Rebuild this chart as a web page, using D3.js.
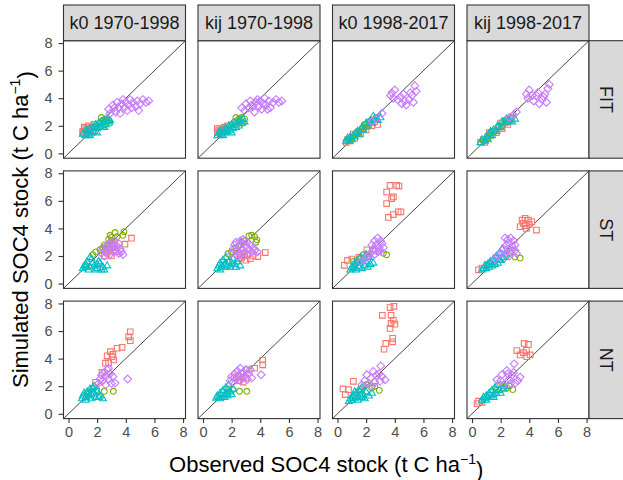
<!DOCTYPE html>
<html><head><meta charset="utf-8">
<script src="https://cdn.jsdelivr.net/npm/d3@7"></script>
<style>body{margin:0;background:#fff} svg{display:block;font-family:"Liberation Sans",Arial,sans-serif}</style>
</head><body><svg id="c" width="623" height="480"></svg>
<script>
// ---------- categories / labels ----------
const columns = ["k0 1970-1998", "kij 1970-1998", "k0 1998-2017", "kij 1998-2017"];
const rows = ["FIT", "ST", "NT"];
const ticks = [0, 2, 4, 6, 8];
const seriesKeys = ["sq", "ci", "tr", "di"];
const seriesColors = ["#F8766D", "#7CAE00", "#00BFC4", "#C77CFF"];
const xTitle = "Observed SOC4 stock (t C ha";
const yTitle = "Simulated SOC4 stock (t C ha";

// ---------- data: [observed, simulated] per series ----------
const FIT_k0_7098 = {
  sq: [[1.0,1.6],[1.1,1.4],[1.2,1.8],[1.3,1.5],[1.4,2.0],[1.5,1.7],[1.6,1.9],[1.7,1.6],[1.1,1.9],[1.8,2.1],[1.3,1.7],[1.0,1.5]],
  ci: [[2.2,2.2],[2.4,2.4],[2.5,2.1],[2.6,2.5],[2.7,2.3],[2.8,2.4],[2.9,2.2],[2.3,2.6],[2.0,2.0],[1.8,1.9]],
  tr: [[1.0,1.4],[1.2,1.3],[1.3,1.6],[1.4,1.4],[1.5,1.8],[1.6,1.5],[1.7,1.9],[1.8,1.6],[1.9,2.1],[2.0,1.8],[2.1,2.2],[2.2,1.9],[2.3,2.3],[2.4,2.0],[2.5,2.4],[2.6,2.1],[2.7,2.5],[2.8,2.3],[1.5,1.3],[2.0,1.5],[1.2,1.7],[2.5,1.9],[2.9,2.4]],
  di: [[2.8,3.2],[2.9,2.9],[3.1,3.5],[3.3,3.0],[3.4,3.7],[3.5,3.3],[3.6,2.9],[3.7,3.6],[3.8,3.9],[3.9,3.3],[4.0,3.7],[4.1,3.1],[4.2,3.5],[4.3,3.9],[4.4,3.3],[4.5,3.7],[4.7,3.4],[4.8,3.8],[5.0,3.6],[5.2,3.9],[5.4,3.7],[5.6,3.8],[4.9,3.1],[3.2,3.3]]
};
const FIT_kij_7098 = {
  sq: [[1.0,1.5],[1.1,1.7],[1.2,1.4],[1.3,1.8],[1.4,1.6],[1.5,1.9],[1.6,1.7],[1.0,1.8],[1.7,2.0],[1.2,1.6]],
  ci: [[2.2,2.3],[2.4,2.1],[2.5,2.5],[2.6,2.3],[2.7,2.6],[2.8,2.2],[2.9,2.5],[2.0,2.1],[2.3,2.6]],
  tr: [[1.0,1.3],[1.1,1.5],[1.3,1.4],[1.4,1.7],[1.5,1.5],[1.6,1.8],[1.7,1.6],[1.8,2.0],[1.9,1.7],[2.0,2.1],[2.1,1.8],[2.2,2.2],[2.3,1.9],[2.4,2.3],[2.5,2.0],[2.6,2.4],[2.7,2.2],[2.8,2.5],[1.4,1.3],[2.0,1.5],[2.9,2.3],[1.2,1.6]],
  di: [[2.7,3.3],[2.9,3.1],[3.0,3.6],[3.2,3.3],[3.3,3.8],[3.5,3.4],[3.6,3.0],[3.7,3.7],[3.8,3.9],[3.9,3.4],[4.0,3.8],[4.1,3.2],[4.2,3.6],[4.3,4.0],[4.4,3.5],[4.6,3.8],[4.7,3.3],[4.9,3.7],[5.1,3.9],[5.3,3.7],[5.5,3.8],[4.5,3.2],[3.4,3.5]]
};
const FIT_k0_9817 = {
  sq: [[0.6,0.8],[0.7,1.0],[0.9,0.9],[1.0,1.2],[1.2,1.1],[1.4,1.5],[1.6,1.4],[1.8,1.8],[2.0,1.7],[2.2,2.1],[2.4,2.0],[2.6,2.3],[2.8,2.1],[1.1,1.4],[1.9,2.0]],
  ci: [[0.8,1.0],[1.0,1.1],[1.3,1.4],[1.5,1.6],[1.7,1.8],[2.0,1.9],[2.2,2.3],[2.5,2.4],[2.7,2.6],[1.9,2.1]],
  tr: [[0.6,0.9],[0.7,1.1],[0.8,0.9],[0.9,1.2],[1.0,1.0],[1.1,1.3],[1.2,1.2],[1.4,1.6],[1.5,1.4],[1.7,1.9],[1.8,1.7],[2.0,2.2],[2.1,2.0],[2.3,2.4],[2.4,2.2],[2.6,2.5],[2.8,2.4],[3.0,2.6],[2.5,2.7],[1.3,1.5]],
  di: [[2.7,2.5],[3.1,2.9],[3.7,4.2],[3.8,4.4],[3.9,4.0],[4.0,4.6],[4.2,3.9],[4.4,4.1],[4.5,3.6],[4.6,4.3],[4.8,3.5],[4.7,3.8],[5.0,3.9],[5.1,4.4],[5.2,4.2],[5.3,3.7],[5.4,4.9],[5.5,4.5],[2.4,2.3]]
};
const FIT_kij_9817 = {
  sq: [[0.6,0.8],[0.8,1.0],[0.9,0.8],[1.1,1.2],[1.3,1.3],[1.5,1.6],[1.7,1.5],[1.9,1.9],[2.1,1.8],[2.3,2.3],[2.5,2.1],[2.7,2.5],[1.2,1.5],[2.0,2.2]],
  ci: [[0.8,0.9],[1.1,1.1],[1.3,1.5],[1.6,1.6],[1.8,1.9],[2.1,2.0],[2.3,2.4],[2.6,2.3],[2.8,2.6]],
  tr: [[0.6,0.8],[0.7,1.0],[0.9,0.9],[1.0,1.2],[1.1,1.0],[1.2,1.4],[1.4,1.3],[1.5,1.7],[1.7,1.6],[1.8,2.0],[2.0,1.9],[2.1,2.3],[2.3,2.2],[2.4,2.5],[2.6,2.4],[2.8,2.3],[3.0,2.5],[1.3,1.6]],
  di: [[2.6,2.6],[2.9,2.8],[3.1,3.0],[3.8,4.3],[3.9,4.0],[4.0,4.6],[4.2,4.2],[4.3,3.8],[4.5,4.2],[4.6,4.4],[4.7,3.6],[4.9,3.9],[5.0,4.1],[5.1,4.3],[5.2,3.7],[5.3,4.7],[5.4,5.0]]
};
const ST_k0_7098 = {
  sq: [[2.5,2.0],[2.7,2.2],[2.9,2.4],[3.1,2.6],[3.3,2.3],[2.6,2.5],[3.0,2.0],[3.94,2.86],[4.4,3.29],[2.8,2.7],[3.2,2.9]],
  ci: [[1.7,2.1],[1.9,2.3],[2.2,2.45],[2.5,2.8],[2.8,3.2],[3.0,3.36],[3.0,3.1],[3.25,3.7],[3.4,3.4],[3.87,3.76],[3.8,3.5],[2.9,3.5],[2.4,2.6]],
  tr: [[1.0,1.1],[1.1,1.3],[1.2,1.4],[1.3,1.6],[1.4,1.0],[1.5,1.2],[1.6,1.8],[1.7,1.5],[1.8,1.3],[1.9,1.0],[2.0,1.1],[2.1,1.6],[2.2,1.5],[2.4,1.2],[2.5,1.0],[2.7,1.3],[1.2,1.2],[2.0,1.4],[1.5,1.9],[2.3,1.0]],
  di: [[2.3,2.2],[2.4,2.5],[2.6,2.7],[2.6,2.3],[2.8,2.9],[2.8,2.5],[3.0,2.6],[3.0,3.0],[3.1,2.3],[3.2,2.8],[3.3,2.4],[3.4,2.7],[3.5,2.2],[3.6,2.5],[3.7,2.3],[3.8,2.1],[2.9,2.1],[3.2,3.1],[2.5,2.0],[3.5,2.9]]
};
const ST_kij_7098 = {
  sq: [[2.5,1.8],[2.7,1.9],[2.9,2.0],[3.1,2.1],[3.3,1.8],[3.0,1.7],[2.8,2.2],[3.5,2.0],[3.83,1.96],[4.35,2.25],[2.6,2.1]],
  ci: [[1.74,2.16],[2.0,2.3],[2.3,2.6],[2.6,2.8],[2.9,3.1],[3.2,3.45],[3.4,3.5],[3.6,3.4],[3.76,3.17],[3.7,3.0],[2.7,3.0]],
  tr: [[1.0,1.1],[1.1,1.3],[1.2,1.5],[1.3,1.2],[1.4,1.7],[1.5,1.4],[1.6,1.9],[1.7,1.3],[1.8,1.6],[1.9,1.2],[2.0,1.5],[2.1,1.8],[2.2,1.4],[2.4,1.6],[2.6,1.3],[1.2,1.0],[1.6,1.2],[2.3,1.2]],
  di: [[2.0,2.2],[2.1,2.5],[2.2,2.8],[2.3,3.0],[2.4,2.4],[2.5,2.7],[2.6,3.1],[2.7,2.5],[2.8,2.9],[2.9,2.3],[3.0,2.7],[3.1,3.0],[3.2,2.5],[3.3,2.8],[3.4,2.3],[3.5,2.6],[3.6,2.4],[3.8,2.3],[2.6,2.1],[3.1,2.1],[2.4,2.0],[2.8,3.2]]
};
const ST_k0_9817 = {
  sq: [[3.67,7.12],[4.13,7.12],[4.29,7.07],[3.43,6.64],[3.9,6.28],[3.78,6.16],[3.43,5.8],[4.43,5.2],[4.24,5.2],[3.9,5.0],[3.55,4.8],[0.47,1.32],[0.7,1.68],[1.0,1.78],[2.05,2.45],[1.5,1.9]],
  ci: [[3.43,2.09],[3.2,2.2],[2.5,2.45],[1.8,2.09],[1.11,1.6],[2.9,2.3],[1.5,1.8],[2.2,2.0]],
  tr: [[0.9,1.0],[1.0,1.2],[1.1,1.1],[1.2,1.3],[1.3,1.0],[1.4,1.6],[1.5,1.2],[1.6,1.5],[1.7,1.1],[1.8,1.8],[1.9,1.3],[2.0,1.6],[2.1,1.2],[2.2,1.9],[2.3,1.4],[2.5,1.5],[1.2,1.5],[1.6,1.9],[2.0,2.1]],
  di: [[2.6,3.1],[2.8,3.3],[3.0,3.1],[2.7,2.8],[2.9,2.6],[3.1,2.9],[2.5,2.5],[2.8,2.3],[2.3,2.2],[2.0,1.9],[1.8,1.7],[2.2,2.0],[2.6,2.1],[3.2,2.6],[2.4,2.8],[3.0,2.4],[1.6,1.6]]
};
const ST_kij_9817 = {
  sq: [[3.71,4.73],[3.94,4.6],[4.17,4.48],[3.59,4.37],[3.36,4.12],[3.8,4.0],[4.5,3.88],[4.0,4.3],[3.5,4.6],[0.46,1.0],[0.7,1.13],[1.05,1.37],[3.7,4.2]],
  ci: [[3.36,1.85],[3.0,1.92],[2.65,2.2],[2.4,2.0],[2.8,2.4],[2.2,1.8],[1.6,1.6]],
  tr: [[0.7,1.0],[0.8,1.1],[0.9,1.3],[1.0,1.1],[1.1,1.4],[1.2,1.2],[1.3,1.6],[1.4,1.3],[1.5,1.8],[1.6,1.4],[1.7,2.0],[1.8,1.5],[1.9,2.2],[2.0,1.7],[2.1,2.5],[2.2,1.9],[1.2,1.5],[1.9,1.8],[2.3,2.1]],
  di: [[2.3,3.3],[2.5,3.2],[2.7,3.3],[2.9,3.1],[2.4,2.8],[2.6,2.9],[2.8,2.7],[3.0,2.8],[2.2,2.5],[2.5,2.5],[2.7,2.3],[3.0,2.4],[2.0,2.2],[2.3,2.1],[2.6,2.0],[1.8,2.0],[3.1,2.2],[1.6,1.8]]
};
const NT_k0_7098 = {
  sq: [[4.31,5.94],[4.2,5.58],[4.31,5.3],[3.74,4.82],[3.39,4.75],[2.92,4.5],[3.04,4.14],[3.15,3.9],[2.7,4.2],[2.58,3.67],[2.8,3.7],[2.34,3.0],[1.88,2.28],[3.1,4.3]],
  ci: [[2.5,1.63],[3.13,1.63],[1.97,1.75],[1.7,1.8],[1.4,1.5]],
  tr: [[0.95,1.1],[1.0,1.3],[1.1,1.5],[1.2,1.2],[1.3,1.6],[1.4,1.3],[1.5,1.8],[1.6,1.4],[1.7,1.9],[1.8,1.5],[1.9,1.2],[2.0,1.6],[2.2,1.3],[2.4,1.1],[1.2,1.0],[1.6,1.1],[1.8,2.0],[2.1,1.2]],
  di: [[2.1,2.2],[2.2,2.5],[2.3,2.8],[2.4,2.4],[2.5,3.0],[2.6,2.7],[2.7,3.2],[2.8,2.5],[2.9,2.9],[3.0,2.2],[3.1,2.7],[3.25,2.23],[2.6,2.1],[4.13,2.52],[2.8,3.3]]
};
const NT_kij_7098 = {
  sq: [[4.17,3.9],[4.17,3.55],[3.6,3.3],[3.06,3.19],[2.43,2.7],[2.7,2.9],[2.5,2.4],[2.8,2.3],[3.0,2.6],[2.2,2.6]],
  ci: [[2.55,1.63],[3.06,1.63],[2.09,1.75],[1.8,1.8]],
  tr: [[0.93,1.15],[1.0,1.3],[1.1,1.2],[1.2,1.5],[1.3,1.3],[1.4,1.7],[1.5,1.4],[1.6,1.9],[1.7,1.5],[1.8,2.1],[1.9,1.6],[2.0,1.4],[2.1,1.8],[1.2,1.1],[1.5,1.2],[1.7,1.3]],
  di: [[1.9,2.4],[2.0,2.7],[2.2,2.9],[2.3,2.5],[2.4,3.1],[2.5,2.8],[2.6,3.3],[2.7,2.6],[2.8,3.0],[2.9,2.7],[3.0,3.2],[3.1,2.5],[3.2,2.9],[3.4,2.6],[2.1,2.3],[4.06,2.83],[3.3,3.2],[2.6,2.4]]
};
const NT_k0_9817 = {
  sq: [[3.67,7.7],[3.94,7.79],[3.13,7.14],[3.74,7.14],[3.9,6.78],[4.01,6.5],[3.74,6.55],[3.67,6.19],[3.85,5.47],[3.85,5.22],[3.37,5.1],[3.25,4.68],[1.11,2.35],[0.38,1.8],[0.77,1.75],[0.54,1.39]],
  ci: [[2.92,1.7],[2.39,1.87],[2.04,2.12],[1.6,1.8],[2.6,2.0]],
  tr: [[0.8,0.9],[0.9,1.1],[1.0,1.0],[1.1,1.3],[1.2,1.1],[1.3,1.5],[1.4,1.2],[1.5,1.7],[1.6,1.3],[1.7,1.9],[1.8,1.4],[1.9,1.1],[2.0,1.6],[2.2,1.3],[2.4,1.5],[1.4,1.0],[1.7,1.2],[1.2,1.6]],
  di: [[3.02,3.47],[2.5,3.07],[2.04,2.83],[3.32,2.47],[2.97,2.35],[1.7,2.1],[2.34,2.59],[2.7,2.8],[2.6,2.3],[2.2,2.2],[2.9,2.9],[1.9,2.4],[3.1,2.7],[2.4,2.0]]
};
const NT_kij_9817 = {
  sq: [[3.64,5.1],[3.94,5.03],[3.13,4.58],[3.59,4.43],[4.06,4.27],[3.83,4.14],[3.36,4.27],[3.8,4.6],[0.46,0.91],[0.35,0.74],[0.7,0.83]],
  ci: [[2.85,1.75],[2.43,1.87],[2.0,2.1],[2.2,1.9],[2.6,2.0],[1.7,1.7]],
  tr: [[0.7,1.0],[0.8,1.2],[0.9,1.1],[1.0,1.3],[1.1,1.2],[1.2,1.5],[1.3,1.3],[1.4,1.7],[1.5,1.4],[1.6,1.9],[1.7,1.5],[1.8,2.1],[1.9,1.7],[2.0,1.5],[2.2,1.8],[2.3,2.0],[1.0,1.0],[1.5,1.2]],
  di: [[2.94,3.62],[2.43,3.14],[2.09,2.83],[3.36,2.66],[1.74,2.47],[2.8,2.8],[3.02,2.23],[2.2,2.1],[2.6,2.5],[2.5,2.9],[2.9,3.0],[3.2,2.4],[2.0,2.4],[2.7,2.2]]
};
const panelGrid = [
  [FIT_k0_7098, FIT_kij_7098, FIT_k0_9817, FIT_kij_9817],
  [ST_k0_7098, ST_kij_7098, ST_k0_9817, ST_kij_9817],
  [NT_k0_7098, NT_kij_7098, NT_k0_9817, NT_kij_9817]
];

// ---------- layout ----------
const L = 63.5, PW = 122, GX = 134.5, T = 40.7, PH = 117.5, GY = 130.2, STRIP = 35.7;
const domain = [-0.35, 8.17];

const shapes = {
  sq: () => `M-2.8,-2.8h5.6v5.6h-5.6Z`,
  ci: () => `M2.9,0A2.9,2.9 0 1 1 -2.9,0A2.9,2.9 0 1 1 2.9,0Z`,
  tr: () => `M0,-3.9L3.5,2.2L-3.5,2.2Z`,
  di: () => `M0,-3.9L3.9,0L0,3.9L-3.9,0Z`
};

const svg = d3.select("#c");
const drawOrder = ["sq", "ci", "tr", "di"];

rows.forEach((rname, ri) => {
  columns.forEach((cname, ci) => {
    const x0 = L + ci * GX, y0 = T + ri * GY;
    const xs = d3.scaleLinear().domain(domain).range([x0, x0 + PW]);
    const ys = d3.scaleLinear().domain(domain).range([y0 + PH, y0]);
    const g = svg.append("g");
    g.append("rect").attr("x", x0).attr("y", y0).attr("width", PW).attr("height", PH).attr("fill", "#fff");
    g.append("line")
      .attr("x1", xs(domain[0])).attr("y1", ys(domain[0]))
      .attr("x2", xs(domain[1])).attr("y2", ys(domain[1]))
      .attr("stroke", "#333").attr("stroke-width", 0.9);
    const pd = panelGrid[ri][ci];
    drawOrder.forEach(k => {
      const col = seriesColors[seriesKeys.indexOf(k)];
      g.append("g").selectAll("path").data(pd[k]).join("path")
        .attr("d", shapes[k])
        .attr("transform", d => `translate(${xs(d[0])},${ys(d[1])})`)
        .attr("fill", "none").attr("stroke", col).attr("stroke-width", 1.1);
    });
    g.append("rect").attr("x", x0).attr("y", y0).attr("width", PW).attr("height", PH)
      .attr("fill", "none").attr("stroke", "#333").attr("stroke-width", 1.1);

    if (ci === 0) {
      const ax = svg.append("g").attr("transform", `translate(${x0},0)`)
        .call(d3.axisLeft(ys).tickValues(ticks).tickSize(5).tickPadding(6));
      ax.select(".domain").remove();
      ax.selectAll("line").attr("stroke", "#333").attr("stroke-width", 1.1);
      ax.selectAll("text").attr("fill", "#4D4D4D").style("font-size", "14.5px").style("font-family", "Liberation Sans, Arial, sans-serif");
    }
    if (ri === rows.length - 1) {
      const ax = svg.append("g").attr("transform", `translate(0,${y0 + PH})`)
        .call(d3.axisBottom(xs).tickValues(ticks).tickSize(4.5).tickPadding(4));
      ax.select(".domain").remove();
      ax.selectAll("line").attr("stroke", "#333").attr("stroke-width", 1.1);
      ax.selectAll("text").attr("fill", "#4D4D4D").style("font-size", "14.5px").style("font-family", "Liberation Sans, Arial, sans-serif");
    }
    if (ri === 0) {
      svg.append("rect").attr("x", x0).attr("y", y0 - STRIP).attr("width", PW).attr("height", STRIP)
        .attr("fill", "#D9D9D9").attr("stroke", "#333").attr("stroke-width", 1.1);
      svg.append("text").attr("x", x0 + PW / 2).attr("y", y0 - STRIP / 2).attr("dy", "0.36em")
        .attr("text-anchor", "middle").attr("fill", "#1A1A1A").style("font-size", "18px").text(cname);
    }
    if (ci === columns.length - 1) {
      svg.append("rect").attr("x", x0 + PW).attr("y", y0).attr("width", STRIP).attr("height", PH)
        .attr("fill", "#D9D9D9").attr("stroke", "#333").attr("stroke-width", 1.1);
      svg.append("text").attr("transform", `translate(${x0 + PW + STRIP / 2},${y0 + PH / 2}) rotate(90)`)
        .attr("dy", "0.36em").attr("text-anchor", "middle").attr("fill", "#1A1A1A")
        .style("font-size", "18px").text(rname);
    }
  });
});

// ---------- axis titles ----------
function title(sel, base) {
  sel.append("tspan").text(base);
  sel.append("tspan").attr("dy", "-0.6em").style("font-size", "14px").text("\u22121");
  sel.append("tspan").attr("dy", "0.6em").text(")");
}
const cx = L + (3 * GX + PW) / 2;
svg.append("text").attr("x", cx).attr("y", 472).attr("text-anchor", "middle")
  .attr("fill", "#000").style("font-size", "22px").call(title, xTitle);
const cy = T + (2 * GY + PH) / 2;
svg.append("text").attr("transform", `translate(28,${cy}) rotate(-90)`).attr("text-anchor", "middle")
  .attr("fill", "#000").style("font-size", "22px").call(title, yTitle);
</script></body></html>
